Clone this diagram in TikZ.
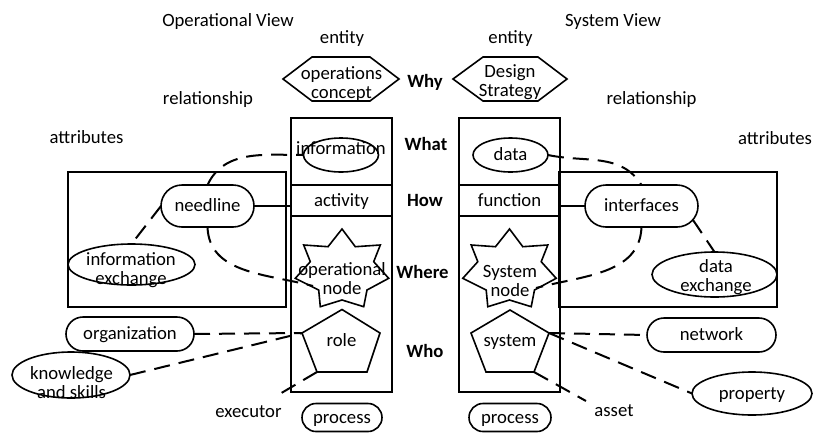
\documentclass[tikz,border=0pt]{standalone}
\usepackage{fontspec}
\setmainfont{Carlito}
\usetikzlibrary{shapes.misc,shapes.geometric,calc}
\begin{document}
\begin{tikzpicture}[x=1pt,y=1pt,
  every node/.style={font=\fontsize{18.7}{18.9}\selectfont, inner sep=0pt, outer sep=0pt},
  sl/.style={text height=1.35em, text depth=0.22em},
  ml/.style={align=center},
  bld/.style={sl, font=\fontsize{18.7}{18.9}\selectfont\bfseries},
  ln/.style={line width=1.6pt},
  dl/.style={line width=2pt, dash pattern=on 16pt off 9pt},
  pill/.style={draw, ln, sl, rounded rectangle, inner xsep=0pt},
  ell/.style={draw, ln, ellipse},
  cell/.style={draw, ln, sl, minimum width=101pt, minimum height=31pt}
]
\useasboundingbox (0,0) rectangle (814,-432);

% titles
\node[sl] (opview) at (228,-21) {Operational View};
\node[sl] (sysview) at (613,-21) {System View};
\node[sl] (entL) at (342,-38) {entity};
\node[sl] (entR) at (510.5,-38) {entity};
\node[sl] (relL) at (208,-99) {relationship};
\node[sl] (relR) at (651.5,-99) {relationship};
\node[sl] (attrL) at (86.5,-138) {attributes};
\node[sl] (attrR) at (775,-139) {attributes};

% interrogatives
\node[bld] (why) at (425,-82) {Why};
\node[bld] (what) at (426,-145) {What};
\node[bld] (how) at (425,-201) {How};
\node[bld] (where) at (422.5,-273) {Where};
\node[bld] (who) at (425,-352) {Who};

% hexagons
\draw[ln] (283,-79) -- (312,-57) -- (370,-57) -- (399,-79) -- (370,-101) -- (312,-101) -- cycle;
\node[ml] (opscon) at (341.5,-84) {operations\\concept};
\draw[ln] (453,-79) -- (483,-57) -- (538,-57) -- (567,-79) -- (538,-101) -- (483,-101) -- cycle;
\node[ml] (design) at (510,-82.5) {Design\\Strategy};

% attribute boxes
\draw[ln] (68,-172) rectangle (286,-307);
\draw[ln] (559,-172) rectangle (777,-307);

% columns
\node[draw, ln, minimum width=101pt, minimum height=274pt] (colL) at (341.5,-255) {};
\node[draw, ln, minimum width=101pt, minimum height=274pt] (colR) at (509.5,-255) {};
\node[cell] (act) at (341.5,-200.5) {activity};
\node[cell] (func) at (509.5,-200.5) {function};

% what
\node[ell, minimum width=75pt, minimum height=34pt] (info) at (341,-155) {};
\node[sl] (infotxt) at (341,-149) {information};
\node[ell, sl, minimum width=75pt, minimum height=34pt] (data) at (510.5,-155) {data};

% pills
\node[pill, minimum width=93pt, minimum height=42pt] (needline) at (207.5,-206) {needline};
\node[pill, minimum width=113pt, minimum height=42pt] (interfaces) at (641.5,-206) {interfaces};
\node[pill, minimum width=128pt, minimum height=34pt] (org) at (130,-334) {organization};
\node[pill, minimum width=129pt, minimum height=34pt] (network) at (711.5,-335) {network};
\node[pill, minimum width=80pt, minimum height=28pt] (procL) at (342,-417.5) {process};
\node[pill, minimum width=82pt, minimum height=28pt] (procR) at (510,-417.5) {process};

% ellipses
\node[ell, minimum width=127pt, minimum height=41pt] (infoex) at (131.5,-264.5) {};
\node[ml] (infoextxt) at (131,-270.5) {information\\exchange};
\node[ell, minimum width=125pt, minimum height=45pt] (dataex) at (714.5,-274.5) {};
\node[ml] (dataextxt) at (716,-277) {data\\exchange};
\node[ell, minimum width=118pt, minimum height=46pt] (know) at (71,-375) {};
\node[ml] (knowtxt) at (71.5,-383) {knowledge\\and skills};
\node[ell, sl, minimum width=120pt, minimum height=43pt] (property) at (752,-393.5) {property};

% stars
\foreach \cx in {342, 509.5}{
  \draw[ln, shift={(\cx,-270)}] (0,41) -- (13.3,23.3) -- (38.3,25) -- (31.7,8.3) -- (46.7,-8.3)
    -- (25,-20) -- (21.7,-36.7) -- (0,-30) -- (-21.7,-36.7) -- (-23.3,-20) -- (-46.7,-8.3)
    -- (-31.7,8.3) -- (-38.3,25) -- (-14,23.3) -- cycle;
}
\node[ml] (opnode) at (342,-279) {operational\\node};
\node[ml] (sysnode) at (510,-281) {System\\node};

% pentagons
\draw[ln] (342,-309.5) -- (380,-333) -- (367,-372) -- (317,-372) -- (302,-333) -- cycle;
\draw[ln] (510,-310) -- (549,-333) -- (534,-372) -- (486,-372) -- (471,-333) -- cycle;
\node[sl] (role) at (341.5,-341) {role};
\node[sl] (system) at (510,-341) {system};

% labels
\node[sl] (executor) at (248.5,-412) {executor};
\node[sl] (asset) at (614,-411) {asset};

% coordinates
\coordinate (roleUL) at (302,-333);
\coordinate (roleBL) at (317,-372);
\coordinate (sysUR) at (549,-333);
\coordinate (sysBR) at (534,-372);
\coordinate (opin) at (313,-286);
\coordinate (sysin) at (536,-288);
\coordinate (execend) at (278,-395);
\coordinate (assetend) at (586,-401);

% solid connectors
\draw[ln] (needline.east) -- (needline.east -| colL.west);
\draw[ln] (interfaces.west) -- (interfaces.west -| colR.east);

% dashed connectors
\draw[dl] (needline.north) to[out=65,in=180] (info.west);
\draw[dl] (needline.south) to[out=-88,in=165] (opin);
\draw[dl] (needline.west) -- (infoex.north);
\draw[dl] (data.east) to[out=-12,in=122] (interfaces.north);
\draw[dl] (interfaces.south) to[out=-92,in=15] (sysin);
\draw[dl] (interfaces.-15) -- (dataex.north);
\draw[dl] (org.east) -- (roleUL);
\draw[dl] (know.east) -- (roleUL);
\draw[dl] (roleBL) -- (execend);
\draw[dl] (sysUR) -- (network.west);
\draw[dl] (sysUR) -- (property.west);
\draw[dl] (sysBR) -- (assetend);
\end{tikzpicture}
\end{document}
